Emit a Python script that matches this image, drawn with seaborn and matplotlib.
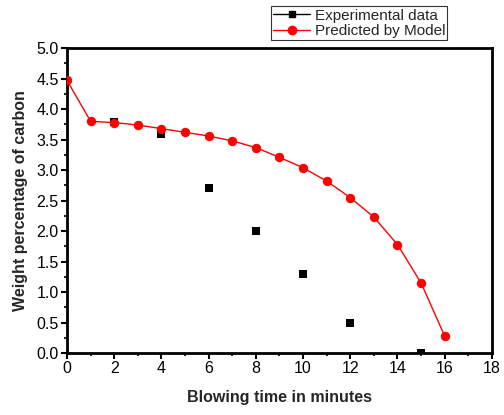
import matplotlib
matplotlib.use("Agg")
import matplotlib.pyplot as plt
import seaborn as sns
import pandas as pd
from matplotlib.lines import Line2D
from matplotlib.ticker import MultipleLocator

exp_time = [2, 4, 6, 8, 10, 12, 15]
exp_carbon = [3.79, 3.60, 2.70, 2.00, 1.30, 0.50, 0.00]

model_time = [0, 1, 2, 3, 4, 5, 6, 7, 8, 9, 10, 11, 12, 13, 14, 15, 16]
model_carbon = [4.47, 3.80, 3.78, 3.74, 3.68, 3.62, 3.56, 3.48, 3.37, 3.21,
                3.04, 2.82, 2.55, 2.23, 1.78, 1.15, 0.28]

sns.set_theme(style="white")
plt.rcParams['font.family'] = ['Liberation Sans', 'DejaVu Sans']

exp_df = pd.DataFrame({"t": exp_time, "c": exp_carbon})
mod_df = pd.DataFrame({"t": model_time, "c": model_carbon})

fig = plt.figure(figsize=(5.04, 4.15), dpi=100)
ax = fig.add_axes([0.133, 0.149, 0.843, 0.735])

sns.lineplot(data=mod_df, x="t", y="c", ax=ax, color="red", lw=1.0,
             marker="o", markersize=6, markeredgecolor="red", zorder=3)
sns.scatterplot(data=exp_df, x="t", y="c", ax=ax, color="black", marker="s",
                s=27, edgecolor="black", linewidth=0, zorder=2)

ax.set_xlim(0, 18)
ax.set_ylim(0, 5.0)
ax.xaxis.set_major_locator(MultipleLocator(2))
ax.xaxis.set_minor_locator(MultipleLocator(1))
ax.yaxis.set_major_locator(MultipleLocator(0.5))
ax.yaxis.set_minor_locator(MultipleLocator(0.25))
ax.yaxis.set_major_formatter(matplotlib.ticker.FormatStrFormatter('%.1f'))

for s in ax.spines.values():
    s.set_visible(True)
    s.set_color("black")
    s.set_linewidth(2.0)

ax.tick_params(which="major", direction="out", length=4, width=1.5,
               labelsize=11.5, colors="black", bottom=True, left=True, pad=2)
ax.tick_params(which="minor", direction="out", length=2.5, width=1.5,
               bottom=True, left=True)

ax.set_xlabel("Blowing time in minutes", fontsize=11.5, fontweight="bold", labelpad=10)
ax.set_ylabel("Weight percentage of carbon", fontsize=11.5, fontweight="bold", labelpad=6)

handles = [
    Line2D([0], [0], color="black", lw=1.0, marker="s", markersize=5),
    Line2D([0], [0], color="red", lw=1.0, marker="o", markersize=6),
]
leg = fig.legend(handles, ["Experimental data", "Predicted by Model"],
                 loc="upper left", bbox_to_anchor=(0.538, 0.985),
                 frameon=True, fancybox=False, fontsize=11,
                 borderpad=0.15, labelspacing=0.1, handlelength=2.4,
                 handletextpad=0.3, borderaxespad=0)
leg.get_frame().set_edgecolor("black")
leg.get_frame().set_linewidth(0.8)
leg.set_zorder(5)

fig.savefig("out.png", dpi=100)
